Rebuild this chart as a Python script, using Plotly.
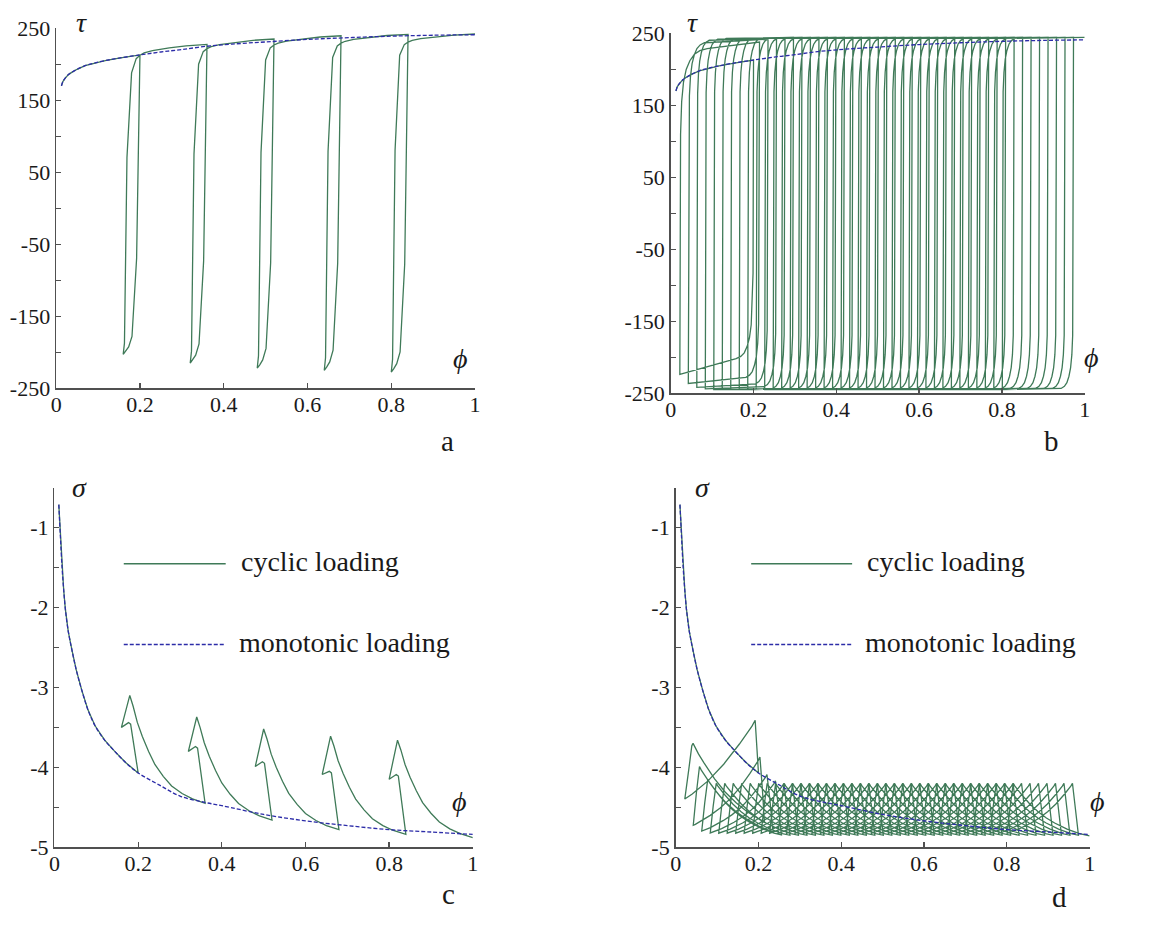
import numpy as np
import plotly.graph_objects as go

W, H = 1156, 928
GREEN = "#3f7a58"
BLUE = "#2c2ca8"
AXC = "#505050"
FONT = "Liberation Serif"

# ---------------- monotonic loading (dashed) ----------------
mono_phi = [0.0126, 0.016, 0.022, 0.03, 0.038, 0.05, 0.069, 0.09, 0.117, 0.15, 0.2,
            0.25, 0.3, 0.36, 0.42, 0.5, 0.6, 0.7, 0.8, 0.9, 1.0]
mono_tau = [170, 176, 181, 186, 189, 193, 198, 201.5, 205, 208.5, 213,
            217, 220.5, 225, 228, 231, 234.5, 237, 239, 240.3, 241]
mono_sig_phi = [0.0103, 0.014, 0.018, 0.022, 0.026, 0.033, 0.042, 0.052, 0.065, 0.08, 0.097,
                0.12, 0.144, 0.17, 0.2, 0.25, 0.3, 0.36, 0.4, 0.5, 0.6, 0.7, 0.8, 0.9, 1.0]
mono_sig = [-0.71, -1.1, -1.49, -1.78, -2.02, -2.3, -2.54, -2.78, -3.03, -3.28, -3.48,
            -3.66, -3.80, -3.94, -4.07, -4.22, -4.36, -4.44, -4.48, -4.59, -4.67, -4.73, -4.78, -4.81, -4.84]

# ---------------- panels a / c : five cycles ----------------
ac_peak_phi = [0.20, 0.36, 0.52, 0.68, 0.84]
a_peak_tau = [213, 227.5, 235, 239.5, 241.5]
a_min_tau = [-203, -215, -222, -225, -227.5]
a_reload_tau = [188, 200, 206, 209.5, 212.6]
a_end_tau = 242
c_start_sig = [-4.07, -4.45, -4.66, -4.78, -4.84]
c_kink_sig = [-3.46, -3.76, -3.95, -4.07, -4.11]
c_left_sig = [-3.50, -3.80, -3.99, -4.09, -4.15]
c_peak_sig = [-3.10, -3.37, -3.52, -3.61, -3.66]
c_end_sig = -4.88

unload_dphi = [0.0, -0.008, -0.019, -0.027, -0.034, -0.040]
unload_frac = [0.0, 0.68, 0.94, 0.975, 0.99, 1.0]
reload_dphi = [-0.040, -0.037, -0.031, -0.020]
reload_frac = [0.0, 0.04, 0.70, 1.0]
flow_dphi = [0, 0.005, 0.011, 0.02, 0.03, 0.05, 0.09, 0.13, 0.18]
flow_frac = [0, 0.25, 0.5, 0.62, 0.7, 0.78, 0.88, 0.95, 1.0]
c_loop_dphi = [0.0, -0.018, -0.023, -0.040, -0.020]
c_tail_dphi = [0, 0.008, 0.018, 0.03, 0.045, 0.06, 0.08, 0.1, 0.125, 0.15, 0.18]
c_tail_frac = [0, 0.1, 0.25, 0.38, 0.52, 0.64, 0.75, 0.84, 0.91, 0.96, 1.0]

# ---------------- panels b / d : many cycles ----------------
b_up_phi = [0.0220, 0.0425, 0.0630, 0.0835, 0.1040, 0.1245, 0.1450, 0.1655, 0.1860, 0.2065,
            0.2270, 0.2475, 0.2680, 0.2885, 0.3090, 0.3295, 0.3500, 0.3705, 0.3910, 0.4115,
            0.4320, 0.4525, 0.4730, 0.4935, 0.5140, 0.5345, 0.5550, 0.5755, 0.5960, 0.6165,
            0.6370, 0.6575, 0.6780, 0.6985, 0.7190, 0.7395, 0.7600, 0.7805, 0.8010]
b_down_phi = [0.2000, 0.2145, 0.2350, 0.2555, 0.2760, 0.2965, 0.3170, 0.3375, 0.3580, 0.3785,
              0.3990, 0.4195, 0.4400, 0.4605, 0.4810, 0.5015, 0.5220, 0.5425, 0.5630, 0.5835,
              0.6040, 0.6245, 0.6450, 0.6655, 0.6860, 0.7065, 0.7270, 0.7475, 0.7680, 0.7885,
              0.8090, 0.8295, 0.8500, 0.8705, 0.8910, 0.9115, 0.9320, 0.9525, 0.9730]
b_end_phi = 1.0
b_top_start_early = [230, 238, 241.5, 243]
b_top_end_early = [238, 242, 243.5, 244]
b_top_start_steady, b_top_end_steady = 244, 244.5
b_bot_start_early = [-203, -229, -238, -242]
b_bot_end_early = [-224, -236.5, -242, -244]
b_bot_start_steady, b_bot_end_steady = -244.5, -245
b_rnd_scale_up_early = [2.2, 1.3]
b_rnd_scale_down_early = [1.4, 1.1]
rnd_dphi = [0.0008, 0.002, 0.004, 0.007, 0.011, 0.016, 0.022, 0.030]
rnd_gap = [120, 75, 48, 30, 18, 9, 4, 1]
d_pk_down_early = [-3.41, -3.87, -4.09, -4.17]
d_pk_up_early = [-3.70, -3.99, -4.15]
d_pk_steady = -4.2
d_floor = -4.9
d_scale_down_early = [1.9, 1.2, 1.05]
d_scale_up_early = [1.3, 1.1]
d_off_down_early = [0.008, 0.011]
d_off_up_early = [0.02, 0.015, 0.0145]
d_off_steady = 0.0145
tail_dphi = [0, 0.004, 0.01, 0.02, 0.04, 0.06, 0.08, 0.1, 0.13, 0.16, 0.19, 0.22]
tail_frac = [1, 0.95, 0.89, 0.8, 0.63, 0.49, 0.38, 0.29, 0.18, 0.1, 0.05, 0.02]


def early(arr, i, steady):
    return arr[i] if i < len(arr) else steady


a_x, a_y = [], []
for p, t in zip(mono_phi, mono_tau):
    if p < ac_peak_phi[0]:
        a_x.append(p); a_y.append(t)
for k in range(5):
    pp, tp, tm, tr = ac_peak_phi[k], a_peak_tau[k], a_min_tau[k], a_reload_tau[k]
    for d, f in zip(unload_dphi, unload_frac):
        a_x.append(pp + d); a_y.append(tp + (tm - tp) * f)
    for d, f in zip(reload_dphi[1:], reload_frac[1:]):
        a_x.append(pp + d); a_y.append(tm + (tr - tm) * f)
    nxt = a_peak_tau[k + 1] if k < 4 else a_end_tau
    phr = pp + reload_dphi[-1]
    for d, f in zip(flow_dphi[1:], flow_frac[1:]):
        a_x.append(phr + d); a_y.append(tr + (nxt - tr) * f)

c_x, c_y = [], []
for p, s in zip(mono_sig_phi, mono_sig):
    if p < ac_peak_phi[0]:
        c_x.append(p); c_y.append(s)
for k in range(5):
    pp = ac_peak_phi[k]
    vals = [c_start_sig[k], c_kink_sig[k], c_kink_sig[k] + 0.02, c_left_sig[k], c_peak_sig[k]]
    for d, v in zip(c_loop_dphi, vals):
        c_x.append(pp + d); c_y.append(v)
    nxt = c_start_sig[k + 1] if k < 4 else c_end_sig
    php = pp + c_loop_dphi[-1]
    for d, f in zip(c_tail_dphi[1:], c_tail_frac[1:]):
        c_x.append(php + d); c_y.append(c_peak_sig[k] + (nxt - c_peak_sig[k]) * f)

b_x, b_y = [], []
for p, t in zip(mono_phi, mono_tau):
    if p <= b_down_phi[0]:
        b_x.append(p); b_y.append(t)
n = len(b_down_phi)
for i in range(n):
    R, L = b_down_phi[i], b_up_phi[i]
    bs = early(b_bot_start_early, i, b_bot_start_steady)
    be = early(b_bot_end_early, i, b_bot_end_steady)
    sc = early(b_rnd_scale_down_early, i, 1.0)
    for d, g in zip(rnd_dphi, rnd_gap):
        b_x.append(R - d * sc); b_y.append(bs + g)
    b_x.append(L); b_y.append(be)
    ts = early(b_top_start_early, i, b_top_start_steady)
    te = early(b_top_end_early, i, b_top_end_steady)
    sc = early(b_rnd_scale_up_early, i, 1.0)
    for d, g in zip(rnd_dphi, rnd_gap):
        b_x.append(L + d * sc); b_y.append(ts - g)
    Rn = b_down_phi[i + 1] if i + 1 < n else b_end_phi
    b_x.append(Rn); b_y.append(te)

d_x, d_y = [], []
for p, s in zip(mono_sig_phi, mono_sig):
    if p <= b_down_phi[0]:
        d_x.append(p); d_y.append(s)
cur = d_y[-1]


def tail(phi_rev, phi_end, cur, pk, fl, sc, off, direction):
    xs = [phi_rev + direction * 0.5 * off, phi_rev + direction * 0.85 * off, phi_rev + direction * off]
    ys = [cur + 0.55 * (pk - cur), pk - 0.03, pk]
    phi0 = phi_rev + direction * off
    for d, f in zip(tail_dphi[1:], tail_frac[1:]):
        p = phi0 + direction * d * sc
        if direction * (p - phi_end) >= 0:
            break
        xs.append(p); ys.append(fl + (pk - fl) * f)
    fend = float(np.interp(abs(phi_end - phi0) / sc, tail_dphi, tail_frac))
    end_val = fl + (pk - fl) * fend
    xs.append(phi_end); ys.append(end_val)
    return xs, ys, end_val


for i in range(n):
    R, L = b_down_phi[i], b_up_phi[i]
    xs, ys, cur = tail(R, L, cur, early(d_pk_down_early, i, d_pk_steady), d_floor,
                       early(d_scale_down_early, i, 1.0),
                       early(d_off_down_early, i, d_off_steady), -1)
    d_x += xs; d_y += ys
    Rn = b_down_phi[i + 1] if i + 1 < n else b_end_phi
    xs, ys, cur = tail(L, Rn, cur, early(d_pk_up_early, i, d_pk_steady), d_floor,
                       early(d_scale_up_early, i, 1.0), early(d_off_up_early, i, d_off_steady), 1)
    d_x += xs; d_y += ys

fig = go.Figure()
LW = 1.3
DASH = "4px,2px"
panels = [("x", "y", a_x, a_y, mono_phi, mono_tau),
          ("x2", "y2", b_x, b_y, mono_phi, mono_tau),
          ("x3", "y3", c_x, c_y, mono_sig_phi, mono_sig),
          ("x4", "y4", d_x, d_y, mono_sig_phi, mono_sig)]
for xa, ya, gx, gy, mx, my in panels:
    fig.add_trace(go.Scatter(x=gx, y=gy, mode="lines", xaxis=xa, yaxis=ya,
                             line=dict(color=GREEN, width=LW), hoverinfo="skip"))
    fig.add_trace(go.Scatter(x=mx, y=my, mode="lines", xaxis=xa, yaxis=ya, line_shape="spline",
                             line=dict(color=BLUE, width=LW, dash=DASH), hoverinfo="skip"))


def px2dom(x0, x1):
    return [x0 / W, x1 / W]


def py2dom(ytop, ybot):
    return [1 - ybot / H, 1 - ytop / H]


tickfont = dict(family=FONT, size=22, color="#1a1a1a")
xcommon = dict(range=[0, 1], tickvals=[0, 0.2, 0.4, 0.6, 0.8, 1],
               ticktext=["0", "0.2", "0.4", "0.6", "0.8", "1"],
               showline=True, linecolor=AXC, linewidth=1.6, ticks="inside", ticklen=5,
               tickcolor=AXC, tickwidth=1.3, showgrid=False, zeroline=False,
               tickfont=tickfont, ticklabelstandoff=-4, fixedrange=True)
tau_vals = [-250, -200, -150, -100, -50, 0, 50, 100, 150, 200, 250]
tau_text = ["-250", "", "-150", "", "-50", "", "50", "", "150", "", "250"]
sig_vals = [-5, -4.5, -4, -3.5, -3, -2.5, -2, -1.5, -1, -0.5]
sig_text = ["-5", "", "-4", "", "-3", "", "-2", "", "-1", ""]
ycommon = dict(showline=True, linecolor=AXC, linewidth=1.6, ticks="inside", ticklen=5,
               tickcolor=AXC, tickwidth=1.3, showgrid=False, zeroline=False,
               tickfont=tickfont, ticklabelstandoff=0, fixedrange=True)

fig.update_layout(
    width=W, height=H, margin=dict(l=0, r=0, t=0, b=0),
    paper_bgcolor="white", plot_bgcolor="white", showlegend=False,
    font=dict(family=FONT),
    xaxis=dict(domain=px2dom(50.7, 474), anchor="y", **xcommon),
    yaxis=dict(domain=py2dom(16.7, 386.7), anchor="x", range=[-250, 250],
               tickvals=tau_vals, ticktext=tau_text, **ycommon),
    xaxis2=dict(domain=px2dom(671.7, 1090), anchor="y2", **xcommon),
    yaxis2=dict(domain=py2dom(22, 391.7), anchor="x2", range=[-250, 250],
                tickvals=tau_vals, ticktext=tau_text, **ycommon),
    xaxis3=dict(domain=px2dom(49, 471.7), anchor="y3", **xcommon),
    yaxis3=dict(domain=py2dom(489, 858.3), anchor="x3", range=[-5, -0.5],
                tickvals=sig_vals, ticktext=sig_text, **ycommon),
    xaxis4=dict(domain=px2dom(676.7, 1095), anchor="y4", **xcommon),
    yaxis4=dict(domain=py2dom(489, 858.3), anchor="x4", range=[-5, -0.5],
                tickvals=sig_vals, ticktext=sig_text, **ycommon),
)


def ann(text, x, y, size, xanchor="center", italic=False):
    t = f"<i>{text}</i>" if italic else text
    fig.add_annotation(text=t, x=x / W, y=1 - y / H, xref="paper", yref="paper",
                       xanchor=xanchor, yanchor="middle", showarrow=False, borderpad=0,
                       font=dict(family=FONT, size=size, color="#1a1a1a"))


ann("τ", 76, 11, 28, italic=True)
ann("ϕ", 459, 356, 28, italic=True)
ann("τ", 694, 11, 28, italic=True)
ann("ϕ", 1097, 355, 28, italic=True)
ann("σ", 74, 489, 28, italic=True)
ann("ϕ", 458, 811, 28, italic=True)
ann("σ", 704, 489, 28, italic=True)
ann("ϕ", 1103, 811, 28, italic=True)
ann("a", 446, 441, 29)
ann("b", 1056, 441, 29)
ann("c", 447, 906, 29)
ann("d", 1065, 910, 29)

for (x0, x1, tx) in [(119, 222, 236), (753, 855, 869)]:
    fig.add_shape(type="line", xref="paper", yref="paper", x0=x0 / W, x1=x1 / W,
                  y0=1 - 567 / H, y1=1 - 567 / H, line=dict(color=GREEN, width=LW))
    fig.add_shape(type="line", xref="paper", yref="paper", x0=x0 / W, x1=x1 / W,
                  y0=1 - 650 / H, y1=1 - 650 / H, line=dict(color=BLUE, width=LW, dash=DASH))
    ann("cyclic loading", tx, 565, 28, xanchor="left")
    ann("monotonic loading", tx - 2, 648, 28, xanchor="left")

POST = ("var s=document.createElement('style');"
        "s.innerHTML='html,body{margin:0;padding:0;overflow:hidden;}';"
        "document.head.appendChild(s);")
fig.write_html("out.html", config={"displayModeBar": False, "staticPlot": True}, post_script=POST)
